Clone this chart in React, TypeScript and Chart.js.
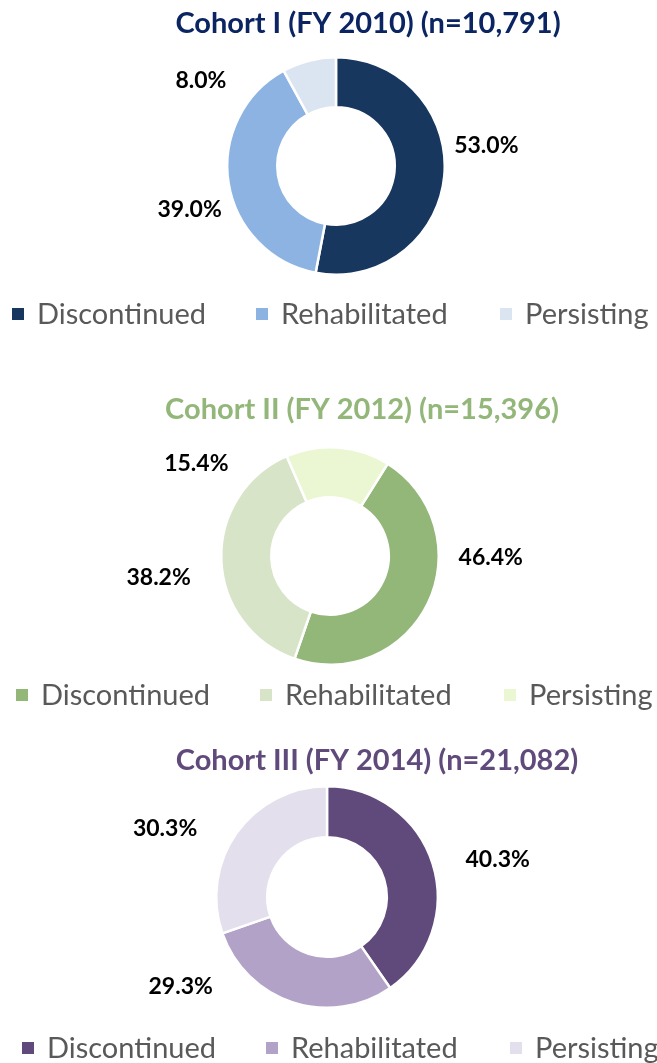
import React, { useEffect, useRef } from 'react';
import { Chart, registerables } from 'chart.js';

Chart.register(...registerables);

// ---------- data ----------
const categories = ['Discontinued', 'Rehabilitated', 'Persisting'];
const cohortTitles = [
  'Cohort I (FY 2010) (n=10,791)',
  'Cohort II (FY 2012) (n=15,396)',
  'Cohort III (FY 2014) (n=21,082)',
];
const cohort1Values = [53.0, 39.0, 8.0];
const cohort2Values = [46.4, 38.2, 15.4];
const cohort3Values = [40.3, 29.3, 30.3];

// ---------- styles / layout ----------
const FONT = "Lato, 'Open Sans', 'DejaVu Sans', sans-serif";
const PAGE_W = 657;

type Panel = {
  title: string;
  values: number[];
  colors: string[];
  titleColor: string;
  top: number;
  height: number;
  titleX: number;
  titleY: number;
  cx: number;
  cy: number;
  r: number;
  rotation: number;
  legendX: number;
  legendY: number;
  labelNudge: number[];
  labelGap: number[];
};

const panels: Panel[] = [
  {
    title: cohortTitles[0],
    values: cohort1Values,
    colors: ['#17375e', '#8db3e2', '#dbe5f1'],
    titleColor: '#0b2562',
    top: 0,
    height: 360,
    titleX: 368,
    titleY: 33,
    cx: 336,
    cy: 166,
    r: 110,
    rotation: 0,
    legendX: 12,
    legendY: 314,
    labelNudge: [-13.3, -7.6, -43.3],
    labelGap: [43, 44, 51],
  },
  {
    title: cohortTitles[1],
    values: cohort2Values,
    colors: ['#93b679', '#d7e4c8', '#ebf6d2'],
    titleColor: '#93b679',
    top: 360,
    height: 365,
    titleX: 362,
    titleY: 419,
    cx: 330,
    cy: 556,
    r: 110,
    rotation: 32,
    legendX: 16,
    legendY: 695,
    labelNudge: [-24.8, -5, -59.5],
    labelGap: [52, 64, 54],
  },
  {
    title: cohortTitles[2],
    values: cohort3Values,
    colors: ['#604a7b', '#b3a2c7', '#e4dfec'],
    titleColor: '#604a7b',
    top: 725,
    height: 338,
    titleX: 377,
    titleY: 770,
    cx: 327,
    cy: 897,
    r: 112,
    rotation: 0,
    legendX: 22,
    legendY: 1048,
    labelNudge: [5, 40.4, -12.5],
    labelGap: [64, 61, 65],
  },
];

const TITLE_SIZE = 29;
const LABEL_SIZE = 23;
const LEGEND_SIZE = 29;
const LEGEND_STEP = 244;
const LEGEND_BOX = 12;
const LEGEND_TEXT_OFFSET = 25;

const decorPlugin = {
  id: 'cohortDecor',
  afterDatasetsDraw(chart: any, _args: any, opts: any) {
    const ctx = chart.ctx as CanvasRenderingContext2D;
    const meta = chart.getDatasetMeta(0);
    const values = chart.data.datasets[0].data as number[];
    const colors = chart.data.datasets[0].backgroundColor as string[];
    ctx.save();

    // data labels
    ctx.font = `bold ${LABEL_SIZE}px ${FONT}`;
    ctx.fillStyle = '#000000';
    ctx.textAlign = 'center';
    ctx.textBaseline = 'middle';
    meta.data.forEach((el: any, i: number) => {
      const p = el.getProps(['x', 'y', 'startAngle', 'endAngle', 'outerRadius'], true);
      const a = (p.startAngle + p.endAngle) / 2 + (opts.labelNudge[i] * Math.PI) / 180;
      const d = p.outerRadius + opts.labelGap[i];
      ctx.fillText(values[i].toFixed(1) + '%', p.x + Math.cos(a) * d, p.y + Math.sin(a) * d);
    });

    // title
    ctx.font = `bold ${TITLE_SIZE}px ${FONT}`;
    ctx.fillStyle = opts.titleColor;
    ctx.textAlign = 'center';
    ctx.textBaseline = 'alphabetic';
    ctx.fillText(opts.title, opts.titleX, opts.titleY);

    // legend
    ctx.font = `${LEGEND_SIZE}px ${FONT}`;
    ctx.textAlign = 'left';
    ctx.textBaseline = 'middle';
    (chart.data.labels as string[]).forEach((lab, i) => {
      const x = opts.legendX + i * LEGEND_STEP;
      ctx.fillStyle = colors[i];
      ctx.fillRect(x, opts.legendY - LEGEND_BOX / 2, LEGEND_BOX, LEGEND_BOX);
      ctx.fillStyle = '#595959';
      ctx.fillText(lab, x + LEGEND_TEXT_OFFSET, opts.legendY + 1);
    });
    ctx.restore();
  },
};

function CohortDoughnut({ panel }: { panel: Panel }) {
  const ref = useRef<HTMLCanvasElement | null>(null);
  useEffect(() => {
    if (!ref.current) return;
    const localCy = panel.cy - panel.top;
    const chart = new Chart(ref.current, {
      type: 'doughnut',
      data: {
        labels: categories,
        datasets: [
          {
            data: panel.values,
            backgroundColor: panel.colors,
            borderColor: '#ffffff',
            borderWidth: 2.5,
            clip: false as any,
          },
        ],
      },
      options: {
        responsive: false,
        animation: false,
        rotation: panel.rotation,
        cutout: '54%',
        layout: {
          padding: {
            left: panel.cx - panel.r,
            right: PAGE_W - (panel.cx + panel.r),
            top: localCy - panel.r,
            bottom: panel.height - (localCy + panel.r),
          },
        },
        plugins: {
          legend: { display: false },
          title: { display: false },
          tooltip: { enabled: false },
          cohortDecor: {
            title: panel.title,
            titleColor: panel.titleColor,
            titleX: panel.titleX,
            titleY: panel.titleY - panel.top,
            legendX: panel.legendX,
            legendY: panel.legendY - panel.top,
            labelNudge: panel.labelNudge,
            labelGap: panel.labelGap,
          },
        } as any,
      },
      plugins: [decorPlugin],
    });
    return () => chart.destroy();
  }, [panel]);
  return (
    <canvas
      ref={ref}
      width={PAGE_W}
      height={panel.height}
      style={{ position: 'absolute', left: 0, top: panel.top, width: PAGE_W, height: panel.height }}
    />
  );
}

export default function App() {
  useEffect(() => {
    document.body.style.margin = '0';
  }, []);
  return (
    <div style={{ position: 'relative', width: PAGE_W, height: 1063, overflow: 'hidden', background: '#ffffff' }}>
      {panels.map((p, i) => (
        <CohortDoughnut key={i} panel={p} />
      ))}
    </div>
  );
}
